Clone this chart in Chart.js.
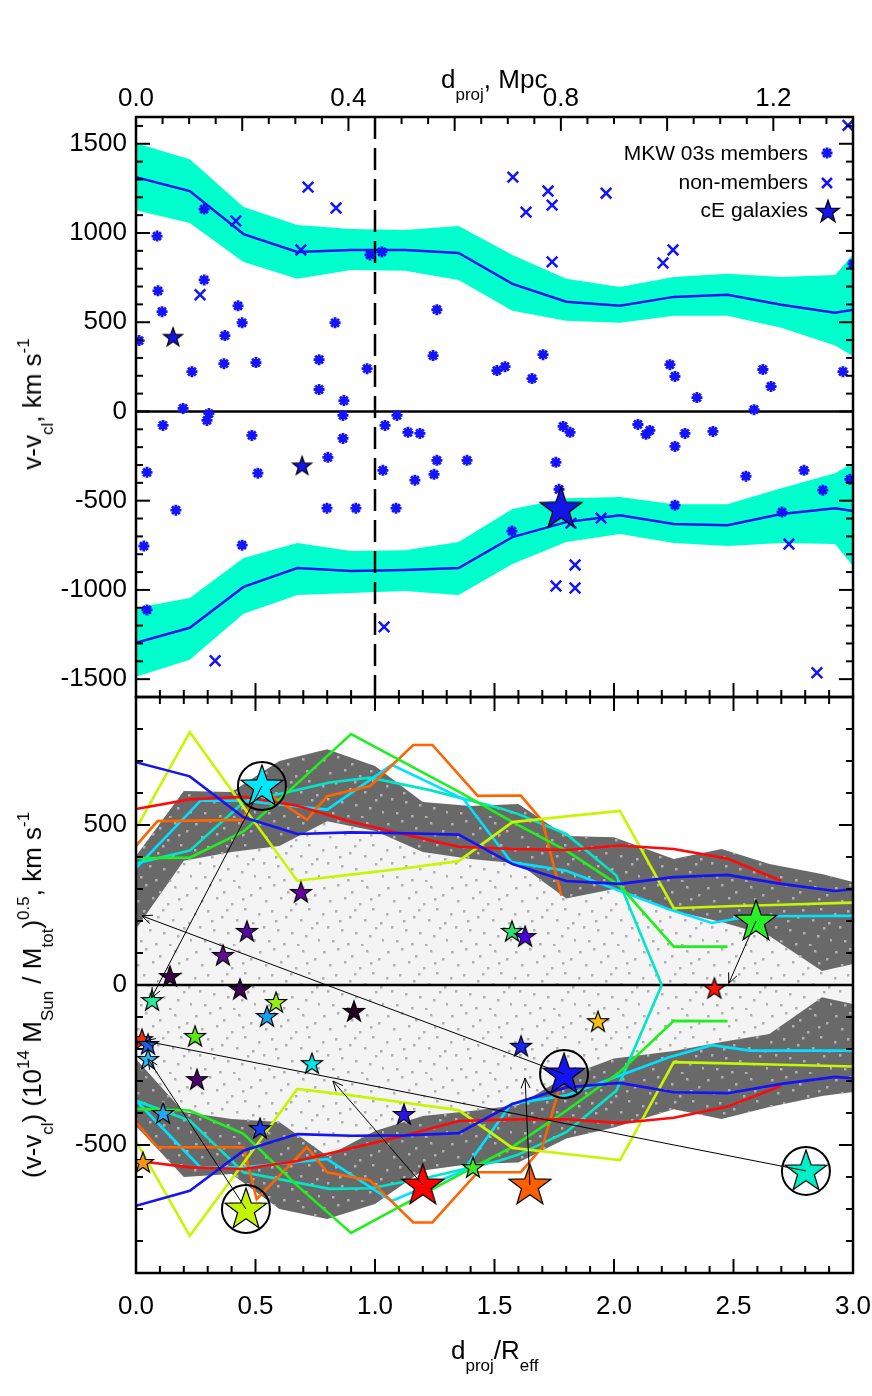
<!DOCTYPE html>
<html>
<head>
<meta charset="utf-8">
<script src="https://cdn.jsdelivr.net/npm/chart.js@4.4.0/dist/chart.umd.min.js"></script>
<style>
  html, body { margin: 0; padding: 0; background: #fff; }
  #wrap { position: relative; width: 872px; height: 1396px; overflow: hidden; }
  canvas { position: absolute; left: 0; }
  #c1 { top: 0; }
  #c2 { top: 690px; }
  .t { position: absolute; font-family: 'Liberation Sans', Arial, Helvetica, sans-serif; font-size: 26px; line-height: 1; white-space: nowrap; color: #000; }
  .sb { font-size: 17px; position: relative; top: 12px; }
  .sp { font-size: 17px; position: relative; top: -12px; }
  .rot { transform: translate(-50%, -50%) rotate(-90deg); }
</style>
</head>
<body>
<div id="wrap">
  <canvas id="c1" width="872" height="700"></canvas>
  <canvas id="c2" width="872" height="706"></canvas>
  <div class="t" style="left:441px;top:66px">d<span class="sb">proj</span>, Mpc</div>
  <div class="t" style="left:451px;top:1337px">d<span class="sb">proj</span>/R<span class="sb">eff</span></div>
  <div class="t rot" style="left:32px;top:404px">v-v<span class="sb">cl</span>, km s<span class="sp">-1</span></div>
  <div class="t rot" style="left:32px;top:995px">(v-v<span class="sb">cl</span>) (10<span class="sp">14</span> M<span class="sb">Sun</span> / M<span class="sb">tot</span>)<span class="sp">0.5</span>, km s<span class="sp">-1</span></div>
</div>
<script>
// ---------- tick labels ----------
const mpcTicks = [0, 0.4, 0.8, 1.2];
const rTicks = [0, 0.5, 1.0, 1.5, 2.0, 2.5, 3.0];
const topYTicks = [-1500, -1000, -500, 0, 500, 1000, 1500];
const botYTicks = [-500, 0, 500];

// ---------- top panel: caustic band, members, non-members, cE ----------
const capX     = [0, 0.225, 0.45, 0.675, 0.9, 1.125, 1.35, 1.575, 1.8, 2.025, 2.25, 2.475, 2.7, 2.925, 3.15];
const capHiUp  = [1503, 1413, 1145, 1045, 1022, 1017, 1039, 877, 743, 698, 754, 771, 754, 765, 1110];
const capMidUp = [1313, 1235, 994, 894, 905, 905, 888, 715, 615, 592, 642, 654, 598, 553, 605];
const capLoUp  = [1128, 1056, 838, 743, 793, 788, 737, 564, 508, 497, 536, 536, 469, 369, 190];
const capHiDn  = [-1101, -1045, -821, -737, -782, -777, -732, -547, -486, -480, -520, -520, -430, -346, -170];
const capMidDn = [-1296, -1212, -983, -877, -894, -888, -877, -704, -620, -581, -631, -637, -575, -542, -590];
const capLoDn  = [-1486, -1391, -1134, -1028, -1017, -1006, -1028, -855, -732, -687, -737, -754, -737, -743, -1110];

const memX = [0.285, 0.088, 0.979, 1.029, 0.285, 0.092, 0.109, 0.427, 0.444, 0.013, 0.372, 0.234, 0.368, 0.502,
  0.833, 0.766, 0.766, 0.870, 0.967, 1.259, 1.243, 0.197, 0.305, 0.297, 1.51, 1.544, 1.703, 1.657, 2.234, 2.255,
  2.347, 2.623, 2.657, 2.958, 2.586, 3.0, 0.113, 0.866, 0.866, 0.485, 0.046, 0.51, 0.167, 0.803, 0.799, 0.92,
  0.033, 0.444, 0.046, 1.042, 1.092, 1.138, 1.188, 1.259, 1.385, 1.033, 1.167, 1.247, 1.088, 1.787, 1.816,
  1.757, 1.77, 2.1, 2.134, 2.15, 2.255, 2.297, 2.414, 2.552, 2.795, 2.874, 2.987, 1.573, 2.255, 2.703];
const memV = [1134, 983, 877, 894, 737, 676, 559, 592, 497, 397, 425, 223, 268, 274,
  497, 290, 123, 61, 240, 570, 313, 17, -12, -50, 229, 251, 318, 184, 262, 196,
  78, 235, 140, 223, 10, 827, -78, -22, -151, -134, -341, -346, -553, -257, -542, -542,
  -754, -749, -1112, -78, -22, -117, -123, -274, -274, -330, -385, -352, -542, -84, -117,
  -285, -436, -73, -128, -106, -196, -123, -112, -363, -330, -441, -380, -670, -525, -564];

const nonX = [0.72, 0.837, 0.418, 0.69, 0.268, 1.577, 1.724, 1.741, 1.632, 1.967, 1.741, 2.205, 2.247, 2.979,
  0.331, 1.038, 1.82, 1.946, 1.757, 1.837, 1.837, 2.732, 2.849];
const nonV = [1257, 1140, 1067, 905, 654, 1313, 1235, 1156, 1117, 1223, 838, 832, 905, 1603,
  -1397, -1207, -626, -598, -978, -989, -860, -743, -1464];

const ceX = [0.155, 0.695, 1.778];
const ceV = [419, -302, -542];
const ceBig = [false, false, true];

const legendLabels = ['MKW 03s members', 'non-members', 'cE galaxies'];
const refLineX = 1.0;

// ---------- bottom panel ----------
const bandX   = [0, 0.2, 0.4, 0.6, 0.8, 1.0, 1.2, 1.4, 1.6, 1.8, 2.0, 2.25, 2.45, 2.65, 2.87, 3.0];
const upOuter = [403, 606, 603, 700, 737, 684, 572, 559, 566, 466, 462, 394, 425, 378, 347, 322];
const upInner = [175, 388, 416, 434, 512, 481, 416, 394, 380, 270, 300, 231, 197, 153, 44, 66];
const loInner = [-231, -397, -419, -428, -534, -456, -409, -394, -375, -285, -230, -206, -178, -153, -38, -59];
const loOuter = [-441, -600, -591, -700, -731, -684, -580, -559, -555, -480, -445, -388, -419, -381, -347, -334];

const lineX   = [0, 0.225, 0.45, 0.675, 0.9, 1.125, 1.35, 1.575, 1.8, 2.025, 2.25, 2.475, 2.7, 2.925, 3.15];
const blueUp  = [696, 652, 524, 472, 477, 474, 470, 378, 325, 316, 337, 344, 316, 294, 310];
const blueDn  = [-690, -643, -518, -466, -471, -470, -463, -372, -320, -306, -335, -338, -309, -287, -300];
const ygUp    = [488, 790, 556, 326, 345, 365, 387, 509, 527, 544, 240, 246, 251, 256, 260];
const ygDn    = [-488, -784, -556, -325, -345, -368, -391, -509, -528, -547, -241, -245, -249, -253, -258];
const redX    = [0, 0.225, 0.45, 0.675, 0.9, 1.125, 1.35, 1.575, 1.8, 2.025, 2.25, 2.475, 2.7];
const redUp   = [550, 580, 588, 560, 510, 470, 432, 425, 422, 436, 425, 395, 325];
const redDn   = [-549, -570, -575, -550, -510, -470, -425, -420, -420, -431, -415, -380, -315];
const greenX  = [0, 0.225, 0.45, 0.675, 0.9, 1.125, 1.35, 1.575, 1.8, 2.025, 2.25, 2.475];
const greenUp = [396, 398, 480, 630, 784, 694, 604, 510, 420, 310, 120, 120];
const greenDn = [-387, -392, -465, -627, -775, -684, -594, -506, -393, -271, -112, -113];
const orangeX  = [0, 0.09, 0.45, 0.505, 0.715, 0.8, 0.98, 1.16, 1.24, 1.43, 1.61, 1.7, 1.78];
const orangeUp = [435, 512, 516, 623, 516, 590, 622, 750, 750, 591, 592, 513, 279];
const orangeDn = [-429, -507, -507, -669, -507, -585, -611, -742, -742, -585, -585, -507, -300];
const cyanX   = [0, 0.27, 0.45, 0.8, 1.07, 1.37, 1.57, 1.8, 2.23, 2.41, 2.57, 3.0];
const cyanUp  = [365, 576, 576, 548, 688, 581, 384, 357, 237, 194, 215, 216];
const cyanDn  = [-361, -570, -570, -544, -675, -580, -372, -345, -226, -188, -205, -205];
const turqX   = [0, 0.225, 0.45, 0.81, 0.98, 1.23, 1.52, 1.6, 1.8, 2.01, 2.2];
const turqUp  = [380, 420, 571, 633, 648, 609, 553, 534, 472, 342, 0];
const turqDn  = [-361, -424, -585, -637, -635, -600, -549, -530, -460, -330, 0];

const smallStarX = [0.142, 0.364, 0.464, 0.69, 0.435, 1.573, 1.628, 2.42, 0.067, 0.586, 0.548, 0.912, 0.025,
  0.05, 0.05, 0.247, 0.736, 0.255, 0.113, 0.519, 1.121, 0.029, 1.41, 1.933, 1.611];
const smallStarY = [28, 94, 169, 291, -12, 169, 153, -9, -47, -53, -97, -81, -169,
  -184, -231, -159, -244, -294, -400, -447, -403, -553, -569, -113, -190];
const smallStarColor = ['rgb(60,0,70)', 'rgb(95,15,145)', 'rgb(85,10,160)', 'rgb(100,0,160)', 'rgb(65,0,85)',
  'rgb(40,225,110)', 'rgb(75,0,225)', 'rgb(255,20,0)', 'rgb(40,235,160)', 'rgb(150,240,20)', 'rgb(20,160,240)',
  'rgb(35,0,35)', 'rgb(255,40,0)', 'rgb(30,100,235)', 'rgb(30,190,245)', 'rgb(90,235,20)', 'rgb(0,230,230)',
  'rgb(80,0,110)', 'rgb(30,170,245)', 'rgb(20,60,240)', 'rgb(45,20,230)', 'rgb(245,150,20)', 'rgb(60,230,40)',
  'rgb(250,190,20)', 'rgb(20,40,240)'];

const bigStarX = [0.527, 2.594, 1.791, 0.46, 1.2, 1.648, 2.803];
const bigStarY = [622, 200, -278, -700, -625, -625, -581];
const bigStarColor = ['rgb(0,230,250)', 'rgb(40,240,40)', 'rgb(20,20,240)', 'rgb(195,245,0)',
  'rgb(255,0,0)', 'rgb(255,95,0)', 'rgb(0,240,200)'];
const bigStarCircled = [true, false, true, true, false, false, true];
const arrowToX = [0.065, 2.48, 0.025, 0.05, 0.824, 1.628, 0.038];
const arrowToY = [-40, 5, 216, -231, -300, -291, -175];

// ---------- helpers ----------
Chart.defaults.font.family = "'Liberation Sans', Arial, Helvetica, sans-serif";
Chart.defaults.color = '#000';

function pts(xs, ys) { return xs.map((x, i) => ({ x: x, y: ys[i] })); }
function fixTicks(vals) { return s => { s.ticks = vals.map(v => ({ value: v })); }; }
function fixSize(key, size) {
  return s => { s[key] = size; s.paddingTop = 0; s.paddingBottom = 0; s.paddingLeft = 0; s.paddingRight = 0; };
}

function makeStar(fill, r) {
  const c = document.createElement('canvas');
  const s = Math.ceil(2 * r + 4);
  c.width = s; c.height = s;
  const g = c.getContext('2d');
  g.beginPath();
  for (let i = 0; i < 10; i++) {
    const a = -Math.PI / 2 + i * Math.PI / 5;
    const rr = i % 2 ? r * 0.4 : r;
    g.lineTo(s / 2 + rr * Math.cos(a), s / 2 + 1 + rr * Math.sin(a));
  }
  g.closePath();
  g.fillStyle = fill; g.fill();
  g.lineWidth = 1.2; g.strokeStyle = '#000'; g.stroke();
  return c;
}

function framePlugin(spec) {
  return {
    id: 'frame',
    afterDraw(chart) {
      const ctx = chart.ctx, a = chart.chartArea;
      ctx.save();
      ctx.strokeStyle = '#000';
      ctx.lineWidth = 2;
      spec.forEach(s => {
        const sc = chart.scales[s.scale];
        const n = Math.round((s.to - s.from) / s.step);
        for (let k = 0; k <= n; k++) {
          const v = s.from + k * s.step;
          const q = v / s.major;
          const len = Math.abs(q - Math.round(q)) < 1e-6 ? 14 : 7;
          const p = sc.getPixelForValue(v);
          ctx.beginPath();
          if (s.side === 'bottom') { ctx.moveTo(p, a.bottom); ctx.lineTo(p, a.bottom - len); }
          if (s.side === 'top') { ctx.moveTo(p, a.top); ctx.lineTo(p, a.top + len); }
          if (s.side === 'left') { ctx.moveTo(a.left, p); ctx.lineTo(a.left + len, p); }
          if (s.side === 'right') { ctx.moveTo(a.right, p); ctx.lineTo(a.right - len, p); }
          ctx.stroke();
        }
      });
      ctx.lineWidth = 2.5;
      ctx.strokeRect(a.left, a.top, a.right - a.left, a.bottom - a.top);
      ctx.restore();
    }
  };
}

const tickFont = { size: 26 };
const noGrid = { display: false, drawTicks: false };

// ---------- top chart ----------
const MEM_BLUE = 'rgb(20,20,250)';
const CAP_FILL = 'rgb(0,255,204)';
const legendStar = makeStar('rgb(20,20,235)', 12);

const legendPlugin = {
  id: 'keyBox',
  afterDraw(chart) {
    const ctx = chart.ctx;
    ctx.save();
    ctx.font = "21px 'Liberation Sans', Arial, sans-serif";
    ctx.fillStyle = '#000';
    ctx.textAlign = 'right';
    const base = [160, 189, 217];
    legendLabels.forEach((t, i) => ctx.fillText(t, 808, base[i]));
    ctx.strokeStyle = MEM_BLUE;
    ctx.lineWidth = 2.8;
    const ax = 827, ay = 153, r = 5.5;
    ctx.beginPath();
    for (let k = 0; k < 4; k++) {
      const ang = k * Math.PI / 4;
      ctx.moveTo(ax - r * Math.cos(ang), ay - r * Math.sin(ang));
      ctx.lineTo(ax + r * Math.cos(ang), ay + r * Math.sin(ang));
    }
    ctx.stroke();
    ctx.lineWidth = 2.5;
    const bx = 827, by = 183, d = 5;
    ctx.beginPath();
    ctx.moveTo(bx - d, by - d); ctx.lineTo(bx + d, by + d);
    ctx.moveTo(bx - d, by + d); ctx.lineTo(bx + d, by - d);
    ctx.stroke();
    ctx.drawImage(legendStar, 828 - legendStar.width / 2, 211 - legendStar.height / 2);
    ctx.restore();
  }
};

const ceImgs = ceX.map((_, i) => makeStar('rgb(20,20,230)', ceBig[i] ? 22 : 10));

new Chart(document.getElementById('c1'), {
  type: 'scatter',
  data: {
    datasets: [
      { data: pts(capX, capLoUp), showLine: true, borderColor: 'rgba(0,0,0,0)', pointRadius: 0, order: 100 },
      { data: pts(capX, capHiUp), showLine: true, borderColor: 'rgba(0,0,0,0)', pointRadius: 0, fill: 0, backgroundColor: CAP_FILL, order: 99 },
      { data: pts(capX, capLoDn), showLine: true, borderColor: 'rgba(0,0,0,0)', pointRadius: 0, order: 100 },
      { data: pts(capX, capHiDn), showLine: true, borderColor: 'rgba(0,0,0,0)', pointRadius: 0, fill: 2, backgroundColor: CAP_FILL, order: 99 },
      { data: pts(capX, capMidUp), showLine: true, borderColor: 'rgb(20,20,235)', borderWidth: 2.5, pointRadius: 0, order: 50 },
      { data: pts(capX, capMidDn), showLine: true, borderColor: 'rgb(20,20,235)', borderWidth: 2.5, pointRadius: 0, order: 50 },
      { data: [{ x: 0, y: 0 }, { x: 3, y: 0 }], showLine: true, borderColor: '#000', borderWidth: 2.5, pointRadius: 0, order: 40 },
      { data: [{ x: refLineX, y: -1600 }, { x: refLineX, y: 1650 }], showLine: true, borderColor: '#000', borderWidth: 2.5, borderDash: [22, 9], pointRadius: 0, order: 40 },
      { data: pts(memX, memV), pointStyle: 'star', pointRadius: 5.5, borderWidth: 2.8, borderColor: MEM_BLUE, backgroundColor: MEM_BLUE, order: 10 },
      { data: pts(nonX, nonV), pointStyle: 'crossRot', pointRadius: 7.5, borderWidth: 2.5, borderColor: MEM_BLUE, backgroundColor: MEM_BLUE, order: 10 },
      { data: pts(ceX, ceV), pointStyle: ctx => ceImgs[ctx.dataIndex], pointRadius: ctx => (ceBig[ctx.dataIndex] ? 22 : 10), order: 5 }
    ]
  },
  options: {
    responsive: false, animation: false, events: [],
    layout: { autoPadding: false, padding: { left: 0, right: 19, top: 0, bottom: 3 } },
    plugins: { legend: { display: false }, tooltip: { enabled: false } },
    scales: {
      x: { type: 'linear', min: 0, max: 3, display: false },
      xTop: {
        type: 'linear', position: 'top', min: 0, max: 1.35,
        afterBuildTicks: fixTicks(mpcTicks),
        afterFit: fixSize('height', 117),
        grid: noGrid, border: { display: false },
        ticks: { padding: 3, font: tickFont, maxRotation: 0, autoSkip: false, callback: v => v.toFixed(1) }
      },
      y: {
        type: 'linear', min: -1600, max: 1650,
        afterBuildTicks: fixTicks(topYTicks),
        afterFit: fixSize('width', 136),
        grid: noGrid, border: { display: false },
        ticks: { padding: 9, font: tickFont, autoSkip: false, callback: v => String(v) }
      }
    }
  },
  plugins: [framePlugin([
    { scale: 'x', side: 'bottom', from: 0, to: 3, step: 0.1, major: 0.5 },
    { scale: 'xTop', side: 'top', from: 0, to: 1.35, step: 0.05, major: 0.2 },
    { scale: 'y', side: 'left', from: -1500, to: 1600, step: 100, major: 500 },
    { scale: 'y', side: 'right', from: -1500, to: 1600, step: 100, major: 500 }
  ]), legendPlugin]
});

// ---------- bottom chart ----------
const c2 = document.getElementById('c2');
const tile = document.createElement('canvas');
tile.width = 64; tile.height = 64;
(function () {
  const g = tile.getContext('2d');
  g.fillStyle = 'rgb(176,176,176)';
  [[3, 5], [17, 2], [31, 9], [46, 4], [58, 12], [9, 18], [24, 15], [39, 21], [52, 26], [2, 31], [15, 28],
   [29, 34], [44, 37], [60, 40], [7, 44], [21, 47], [35, 50], [49, 53], [62, 57], [12, 58], [27, 61],
   [41, 62], [55, 45], [34, 27], [19, 38], [50, 16]]
    .forEach(p => g.fillRect(p[0], p[1], 2.5, 2.5));
})();
const dotFill = c2.getContext('2d').createPattern(tile, 'repeat');

const DARK = 'rgb(105,105,105)';
const series = [
  { x: lineX, up: blueUp, dn: blueDn, color: 'rgb(20,20,245)' },
  { x: redX, up: redUp, dn: redDn, color: 'rgb(255,10,10)' },
  { x: lineX, up: ygUp, dn: ygDn, color: 'rgb(200,245,0)' },
  { x: greenX, up: greenUp, dn: greenDn, color: 'rgb(30,240,30)' },
  { x: orangeX, up: orangeUp, dn: orangeDn, color: 'rgb(255,100,0)' },
  { x: cyanX, up: cyanUp, dn: cyanDn, color: 'rgb(0,225,255)' },
  { x: turqX, up: turqUp, dn: turqDn, color: 'rgb(0,230,200)' }
];
const lineSets = [];
series.forEach(s => {
  [s.up, s.dn].forEach(ys => lineSets.push({
    data: pts(s.x, ys), showLine: true, borderColor: s.color, borderWidth: 2.6, pointRadius: 0, order: 50
  }));
});

const smallImgs = smallStarColor.map(c => makeStar(c, 11));
const bigImgs = bigStarColor.map(c => makeStar(c, 22));
const circX = bigStarX.filter((_, i) => bigStarCircled[i]);
const circY = bigStarY.filter((_, i) => bigStarCircled[i]);

const arrowPlugin = {
  id: 'arrows',
  afterDatasetsDraw(chart) {
    const ctx = chart.ctx, xs = chart.scales.x, ys = chart.scales.y;
    ctx.save();
    ctx.strokeStyle = '#000';
    ctx.lineWidth = 1;
    bigStarX.forEach((_, i) => {
      const x0 = xs.getPixelForValue(bigStarX[i]), y0 = ys.getPixelForValue(bigStarY[i]);
      const x1 = xs.getPixelForValue(arrowToX[i]), y1 = ys.getPixelForValue(arrowToY[i]);
      ctx.beginPath(); ctx.moveTo(x0, y0); ctx.lineTo(x1, y1); ctx.stroke();
      const a = Math.atan2(y1 - y0, x1 - x0), L = 11, w = 0.42;
      ctx.beginPath();
      ctx.moveTo(x1 - L * Math.cos(a - w), y1 - L * Math.sin(a - w));
      ctx.lineTo(x1, y1);
      ctx.lineTo(x1 - L * Math.cos(a + w), y1 - L * Math.sin(a + w));
      ctx.stroke();
    });
    ctx.restore();
  }
};

new Chart(c2, {
  type: 'scatter',
  data: {
    datasets: [
      { data: pts(bandX, loOuter), showLine: true, borderColor: 'rgba(0,0,0,0)', pointRadius: 0, order: 100 },
      { data: pts(bandX, upInner), showLine: true, borderColor: 'rgba(0,0,0,0)', pointRadius: 0, fill: 2, backgroundColor: 'rgb(244,244,244)', order: 99 },
      { data: pts(bandX, loInner), showLine: true, borderColor: 'rgba(0,0,0,0)', pointRadius: 0, fill: 0, backgroundColor: DARK, order: 98 },
      { data: pts(bandX, upOuter), showLine: true, borderColor: 'rgba(0,0,0,0)', pointRadius: 0, fill: 1, backgroundColor: DARK, order: 98 },
      { data: pts(bandX, upOuter), showLine: true, borderColor: 'rgba(0,0,0,0)', pointRadius: 0, fill: 0, backgroundColor: dotFill, order: 97 },
      { data: [{ x: 0, y: 0 }, { x: 3, y: 0 }], showLine: true, borderColor: '#000', borderWidth: 2.5, pointRadius: 0, order: 60 },
      ...lineSets,
      { data: pts(circX, circY), pointStyle: 'circle', pointRadius: 24, borderWidth: 2, borderColor: '#000', backgroundColor: 'rgba(0,0,0,0)', order: 20 },
      { data: pts(smallStarX, smallStarY), pointStyle: ctx => smallImgs[ctx.dataIndex], pointRadius: 11, order: 10 },
      { data: pts(bigStarX, bigStarY), pointStyle: ctx => bigImgs[ctx.dataIndex], pointRadius: 22, order: 5 }
    ]
  },
  options: {
    responsive: false, animation: false, events: [],
    layout: { autoPadding: false, padding: { left: 0, right: 19, top: 7, bottom: 0 } },
    plugins: { legend: { display: false }, tooltip: { enabled: false } },
    scales: {
      x: {
        type: 'linear', min: 0, max: 3, position: 'bottom',
        afterBuildTicks: fixTicks(rTicks),
        afterFit: fixSize('height', 123),
        grid: noGrid, border: { display: false },
        ticks: { padding: 18, font: tickFont, maxRotation: 0, autoSkip: false, callback: v => v.toFixed(1) }
      },
      y: {
        type: 'linear', min: -900, max: 900,
        afterBuildTicks: fixTicks(botYTicks),
        afterFit: fixSize('width', 136),
        grid: noGrid, border: { display: false },
        ticks: { padding: 9, font: tickFont, autoSkip: false, callback: v => String(v) }
      }
    }
  },
  plugins: [framePlugin([
    { scale: 'x', side: 'bottom', from: 0, to: 3, step: 0.1, major: 0.5 },
    { scale: 'x', side: 'top', from: 0, to: 3, step: 0.1, major: 0.5 },
    { scale: 'y', side: 'left', from: -900, to: 900, step: 100, major: 500 },
    { scale: 'y', side: 'right', from: -900, to: 900, step: 100, major: 500 }
  ]), arrowPlugin]
});
</script>
</body>
</html>
